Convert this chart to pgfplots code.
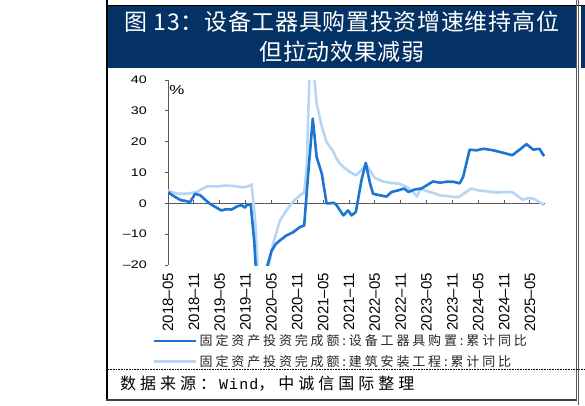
\documentclass[border=0pt]{standalone}
\usepackage{pgfplots}
\pgfplotsset{compat=1.18}
\usepackage{fontspec}
\setmainfont{Liberation Sans}
\newfontfamily\cjk{Noto Sans CJK SC}
\newfontfamily\cjkleg[LetterSpace=22]{Noto Sans CJK SC}
\newfontfamily\cjksrc[LetterSpace=25]{Noto Sans CJK SC}
\newfontfamily\cjktitle[LetterSpace=3]{Noto Sans CJK SC}
\newfontfamily\ytf[FakeStretch=1.3]{Liberation Sans}
\newfontfamily\monof[LetterSpace=7]{Liberation Mono}
\definecolor{navy}{RGB}{5,50,100}
\definecolor{dk}{RGB}{28,117,210}
\definecolor{lt}{RGB}{182,214,245}
\definecolor{axg}{RGB}{90,90,90}

\pgfplotstableread{
m v
0 3.6
1.5 2.2
3 1.0
4 0.8
5.1 0.4
5.6 1.5
6.3 3.1
7.5 2.6
8.6 1.2
9.7 -0.1
11 -1.2
12.4 -2.3
13.5 -1.9
14.8 -2.0
16 -1.0
17.1 -0.6
17.8 -1.4
18.4 -0.4
19.2 -0.5
20.0 -12
20.6 -26
22.0 -28
22.9 -21
24 -15.5
25 -13.2
26 -12
27.5 -10.4
29 -9.4
30.6 -7.7
31.6 -7.2
32.6 10.7
33.6 27.5
34.5 15
35.7 9.6
36.8 0
37.6 0.0
38.4 0.2
39.1 -0.5
39.9 -2.3
40.7 -3.9
41.8 -2.3
42.6 -3.9
43.6 -2.8
44.9 7.5
45.9 13.1
46.9 6.4
47.6 3.1
49.2 2.6
50.7 2.2
51.9 3.7
53.4 4.2
54.8 4.8
55.8 3.7
57.3 4.5
58.8 4.8
60 5.8
61.5 7.1
63.1 6.7
64.6 7.0
66.2 7.0
67.7 6.5
68.5 8.6
70 17.4
71.6 17.2
73.2 17.7
75.5 17.2
77.8 16.4
79.9 15.6
81.7 17.5
83.2 19.2
84.8 17.4
86.2 17.7
87.3 15.3
}\equip

\pgfplotstableread{
m v
0 4.2
2 3.1
4.3 3.1
6.7 3.7
9 5.5
11.3 5.5
13.6 5.8
15.9 5.5
17.5 5.2
18.6 5.5
19.4 6.2
20.2 -5
21 -25
21.8 -32
22.8 -25
24.4 -13
26 -5.5
27.5 -2.3
29.1 0.7
30.6 2.6
31.6 3.5
32.2 12
32.8 40
33.4 52
34.0 40
34.5 32.4
35.7 24.8
36.8 19.9
37.6 18.3
38.4 16.7
39.1 14.5
39.9 12.9
40.7 11.8
42.2 10.2
43.6 9.1
44.9 10.7
45.9 12.6
46.9 10.7
48 8.2
49.9 7.1
51.9 6.6
53.8 6.3
55.4 5.3
56.5 4.2
57.8 2.2
58.6 4.8
60 4.0
61.5 3.4
63.1 2.6
64.6 2.4
66.6 2.0
67.7 2.2
68.9 3.4
70.4 4.8
72 4.2
73.9 3.9
76.2 3.5
78.2 3.7
79.9 3.6
80.9 2.6
82.3 1.2
83.6 1.7
84.8 1.5
86 0.6
87.3 -0.6
}\build

\begin{document}
\begin{tikzpicture}
\begin{scope}[x=1bp,y=-1bp]
\path[use as bounding box] (0,0) rectangle (585,405);
\fill[white] (0,0) rectangle (585,405);
\fill[navy] (108,5.5) rectangle (575.5,67.5);
\fill[navy] (580.5,5.5) rectangle (585,67.5);
\draw[black, line width=0.8bp] (107,5) -- (585,5);
\draw[black, line width=2bp] (107,0) -- (107,400.5);
\draw[axg, line width=1bp] (576,0) -- (576,401);
\draw[axg, line width=1bp] (578.8,0) -- (578.8,405);
\draw[black, densely dotted, line width=0.6bp] (108,369.5) -- (585,369.5);
\draw[black!75, line width=2bp] (106,400) -- (577,400);
\node[white, inner sep=0pt, font=\cjktitle\fontsize{23bp}{28bp}\selectfont] at (342,22) {图 13：设备工器具购置投资增速维持高位};
\node[white, inner sep=0pt, font=\cjktitle\fontsize{23bp}{28bp}\selectfont] at (342,52) {但拉动效果减弱};
\node[anchor=west, inner sep=0pt, font=\cjksrc\fontsize{16bp}{18bp}\selectfont] at (120,384) {数据来源：\hspace{3bp}{\monof\fontsize{15bp}{18bp}\selectfont Wind}，中诚信国际整理};
\node[inner sep=0pt, font=\ytf\fontsize{13bp}{14bp}\selectfont] at (177,90) {\%};
\end{scope}

\begin{axis}[
  at={(168bp,-265bp)}, anchor=south west,
  scale only axis, width=377bp, height=185bp,
  xmin=0, xmax=87.5, ymin=-20, ymax=40,
  axis lines*=left,
  x axis line style={draw=none},
  y axis line style={draw=axg, line width=0.9bp},
  xtick={0,6,...,84},
  xticklabels={2018–05,2018–11,2019–05,2019–11,2020–05,2020–11,2021–05,2021–11,2022–05,2022–11,2023–05,2023–11,2024–05,2024–11,2025–05},
  xtick style={draw=none},
  xticklabel shift=5bp,
  xticklabel style={rotate=90, anchor=east, inner sep=0pt, font=\fontsize{15bp}{15bp}\selectfont},
  ytick={-20,-10,0,10,20,30,40},
  yticklabels={–20,–10,0,10,20,30,40},
  yticklabel style={anchor=east, inner sep=0pt, xshift=-18bp, font=\ytf\fontsize{11bp}{12bp}\selectfont},
  tick align=outside, major tick length=3bp,
  ytick style={draw=axg, line width=0.8bp},
  legend style={at={(axis description cs:-0.04,-0.365)}, anchor=north west, draw=none, fill=none, inner sep=0pt, row sep=4bp,
    font=\cjkleg\fontsize{13bp}{14bp}\selectfont, text=black!85},
  legend cell align=left,
  legend image code/.code={\draw[#1, line width=2.6bp] (0bp,0bp) -- (42bp,0bp);},
]
\draw[axg, line width=0.9bp] (axis cs:0,0) -- (axis cs:87.5,0);
\draw[axg, line width=0.9bp]
  (axis cs:6,0) -- (axis cs:6,1.2)
  (axis cs:12,0) -- (axis cs:12,1.2)
  (axis cs:18,0) -- (axis cs:18,1.2)
  (axis cs:24,0) -- (axis cs:24,1.2)
  (axis cs:30,0) -- (axis cs:30,1.2)
  (axis cs:36,0) -- (axis cs:36,1.2)
  (axis cs:42,0) -- (axis cs:42,1.2)
  (axis cs:48,0) -- (axis cs:48,1.2)
  (axis cs:54,0) -- (axis cs:54,1.2)
  (axis cs:60,0) -- (axis cs:60,1.2)
  (axis cs:66,0) -- (axis cs:66,1.2)
  (axis cs:72,0) -- (axis cs:72,1.2)
  (axis cs:78,0) -- (axis cs:78,1.2)
  (axis cs:84,0) -- (axis cs:84,1.2);
\addlegendimage{dk, line width=2.6bp}
\addlegendentry{固定资产投资完成额:设备工器具购置:累计同比}
\addlegendimage{lt, line width=2.6bp}
\addlegendentry{固定资产投资完成额:建筑安装工程:累计同比}
\addplot[lt, line width=2.6bp, line join=round, forget plot] table[x=m,y=v]{\build};
\addplot[dk, line width=2.6bp, line join=round, forget plot] table[x=m,y=v]{\equip};
\end{axis}
\end{tikzpicture}
\end{document}
